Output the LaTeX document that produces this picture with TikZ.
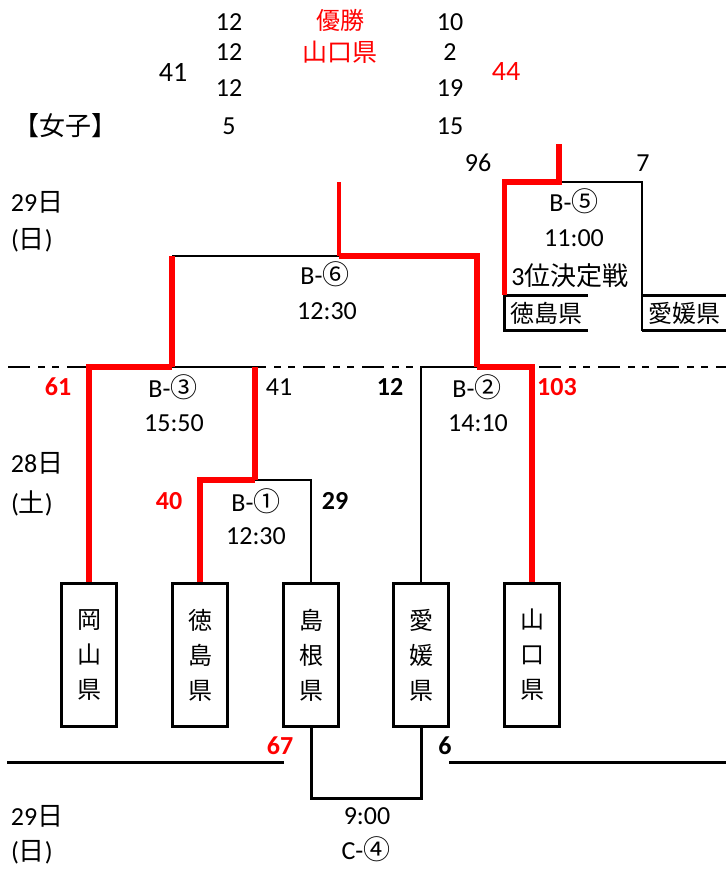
\documentclass[tikz,border=0pt]{standalone}
\usepackage{fontspec}
\setmainfont{Carlito}
\newfontfamily\jp{Noto Sans CJK JP}
\newcommand{\J}[1]{{\jp #1}}
\newcommand{\C}[1]{{\jp\fontsize{27}{28}\selectfont #1}}
\usetikzlibrary{calc}

\begin{document}
\begin{tikzpicture}[x=1pt,y=-1pt,font=\fontsize{26}{28}\selectfont,
	line/.style={line width=2pt},
	win/.style={red, line width=5.5pt},
	team/.style={draw, line width=3pt, minimum width=55pt, minimum height=143pt, inner sep=0pt, align=center, font=\jp\fontsize{24}{35}\selectfont},
	third/.style={minimum width=83pt, minimum height=35pt, inner sep=0pt, font=\jp\fontsize{24}{28}\selectfont},
	lbl/.style={inner sep=0pt},
	big/.style={inner sep=0pt, font=\fontsize{28}{30}\selectfont},
	pts/.style={inner sep=0pt, font=\fontsize{26}{28}\selectfont\bfseries}]
\useasboundingbox (0,0) rectangle (726,871);
	% teams
	\node[team] (okayama) at (89,655) {岡\\山\\県};
	\node[team] (tokushima) at (200,655) {徳\\島\\県};
	\node[team] (shimane) at (311,655) {島\\根\\県};
	\node[team] (ehime) at (421,655) {愛\\媛\\県};
	\node[team] (yamaguchi) at (532,655) {山\\口\\県};
	\coordinate (m1) at (255,480);
	\coordinate (m3) at (172,367);
	\coordinate (m2) at (477,367);
	\coordinate (m6) at (339,256);
	\coordinate (top6) at (339,182);
	\coordinate (m5) at (559,182);
	\coordinate (top5) at (559,144);
	\coordinate (m4) at (366,798);
	\draw[line, dash pattern=on 22pt off 8pt on 7pt off 7pt on 7pt off 8pt] (8,367) -- (726,367);
	% 28
	\draw[line] (m1) -| (shimane.north);
	\draw[win] (tokushima.north) |- (m1);
	\draw[line] (m3) -- (m3 -| m1);
	\draw[win] (okayama.north) |- (m3);
	\draw[win] (m1) -- (m3 -| m1);
	\draw[line] (m2) -| (ehime.north);
	\draw[win] (yamaguchi.north) |- (m2);
	% 29
	\draw[line] (m3 |- m6) -- (m6);
	\draw[win] (m3) -- (m3 |- m6);
	\draw[win] (m6) -| (m2);
	\draw[red, line width=3.5pt] (m6) -- (top6);
	% 3rd place
	\node[third] (t3) at (546,313) {徳島県};
	\node[third] (e3) at (684,313) {愛媛県};
	\draw[line, line width=3pt] (t3.north east) -- (t3.north west) -- (t3.south west) -- (t3.south east);
	\draw[line, line width=3pt] (e3.north east) -- (e3.north west) (e3.south east) -- (e3.south west);
	\draw[line] (m5) -| (e3.south west);
	\draw[win] (top5) -- (m5) -| (t3.north west);
	% C
	\draw[line, line width=3pt] (shimane.south) |- (m4) -| (ehime.south);
	\coordinate (ll) at (7,762); \coordinate (lr) at (284,762);
	\coordinate (rl) at (449,762); \coordinate (rr) at (726,762);
	\draw[line, line width=3pt] (ll) -- (lr) (rl) -- (rr);
	% texts
	\node[lbl] (jyoshi) at (65,126) {\J{【女子】}};
	\node[lbl] (d29a) at (37,202) {29\J{日}};
	\node[lbl] (w29a) at (32,240) {(\J{日})};
	\node[lbl] (d28) at (37,463) {28\J{日}};
	\node[lbl] (w28) at (32,503) {(\J{土})};
	\node[lbl] (d29b) at (37,816) {29\J{日}};
	\node[lbl] (w29b) at (32,852) {(\J{日})};
	\node[lbl, red, font=\jp\fontsize{24}{28}\selectfont] (yusho) at (340,20) {優勝};
	\node[lbl, red, font=\jp\fontsize{25}{28}\selectfont] (champ) at (340,52) {山口県};
	\foreach \a/\b/\y in {12/10/22, 12/2/52, 12/19/88, 5/15/126}
		{\node[lbl] at (229,\y) {\a}; \node[lbl] at (450,\y) {\b};}
	\node[big] (s41a) at (173,72) {41};
	\node[big, red] (s44) at (506,72) {44};
	\node[lbl] (s96) at (478,163) {96};
	\node[lbl] (s7) at (643,163) {7};
	\node[lbl] (g6) at (325,274) {B-\C{⑥}};
	\node[lbl] (t6) at (327,311) {12:30};
	\node[lbl] (g5) at (574,201) {B-\C{⑤}};
	\node[lbl] (t5) at (574,238) {11:00};
	\node[lbl] (k5) at (570,276) {3\J{位決定戦}};
	\node[lbl] (g3) at (173,387) {B-\C{③}};
	\node[lbl] (t3t) at (174,423) {15:50};
	\node[pts, red] (s61) at (58,387) {61};
	\node[lbl] (s41b) at (279,387) {41};
	\node[lbl] (g2) at (477,387) {B-\C{②}};
	\node[lbl] (t2) at (478,423) {14:10};
	\node[pts] (s12) at (390,387) {12};
	\node[pts, red] (s103) at (557,387) {103};
	\node[lbl] (g1) at (256,501) {B-\C{①}};
	\node[lbl] (t1) at (256,536) {12:30};
	\node[pts, red] (s40) at (169,501) {40};
	\node[pts] (s29) at (335,501) {29};
	\node[pts, red] (s67) at (280,746) {67};
	\node[pts] (s6) at (445,746) {6};
	\node[lbl] (t4) at (367,816) {9:00};
	\node[lbl] (g4) at (366,849) {C-\C{④}};
\end{tikzpicture}
\end{document}
